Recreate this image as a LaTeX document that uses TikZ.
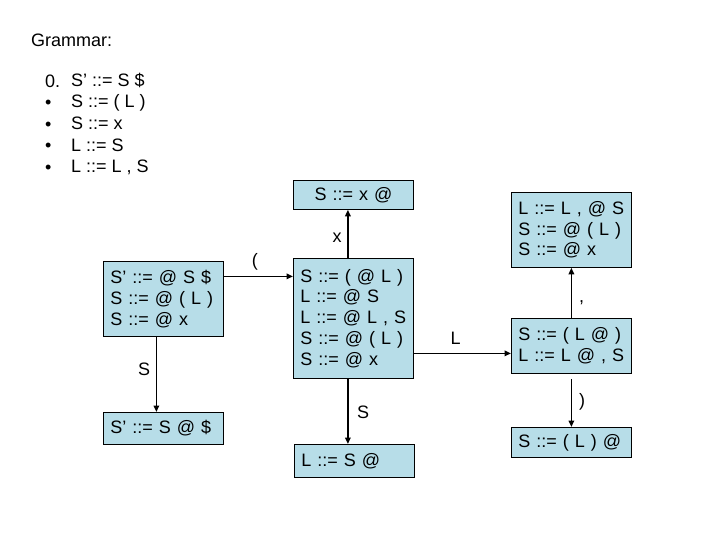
\documentclass[tikz,border=0pt]{standalone}
\usepackage{fontspec}
\setmainfont{Liberation Sans}
\usetikzlibrary{arrows.meta,positioning}

\definecolor{itemblue}{HTML}{B7DDE8}
\newcommand{\rulefont}{\fontsize{18}{20.7}\selectfont}

\begin{document}
\begin{tikzpicture}[
    x=1pt, y=-1pt,
    >={Triangle[length=6.5pt,width=5.5pt]},
    font=\rulefont,
    item/.style={
        draw, fill=itemblue,
        line width=0.8pt,
        anchor=north west,
        inner xsep=7pt,
        inner ysep=0pt,
        text width=106pt,
        align=left
    },
    link/.style={
        ->,
        line width=1.8pt
    },
    symlabel/.style={
        font=\rulefont
    },
    gramtext/.style={
        anchor=west,
        inner sep=0pt,
        align=left,
        font=\fontsize{18}{21.6}\selectfont
    }
]

\useasboundingbox (0,0) rectangle (720,540);


\node[gramtext] (title) at (31,40) {Grammar:};
\node[gramtext] (marks) at (45,124) {0.\\ •\\ •\\ •\\ •};
\node[gramtext] (rules) at (71,124) {S’ ::= S \$\\ S ::= ( L )\\ S ::= x\\ L ::= S\\ L ::= L , S};


\node[item,minimum height=29pt,align=center] (sx) at (293,180) {S ::= x @};
\node[item,minimum height=120pt] (c) at (293,258)
    {S ::= ( @ L )\\ L ::= @ S\\ L ::= @ L , S\\ S ::= @ ( L )\\ S ::= @ x};
\node[item,minimum height=75pt] (s0) at (103,261)
    {S’ ::= @ S \$\\ S ::= @ ( L )\\ S ::= @ x};
\node[item,minimum height=32pt] (s1) at (103,412) {S’ ::= S @ \$};
\node[item,minimum height=33pt] (sL) at (294,444) {L ::= S @};

\node[item,minimum height=75pt] (sc) at (511,192)
    {L ::= L , @ S\\ S ::= @ ( L )\\ S ::= @ x};
\node[item,minimum height=55pt] (sl) at (511,318)
    {S ::= ( L @ )\\ L ::= L @ , S};
\node[item,minimum height=30pt] (sr) at (511,427) {S ::= ( L ) @};


\draw[link] ([yshift=22.5pt]s0.east) -- node[symlabel,pos=.45,above=2pt] {(} ([yshift=22.5pt]s0.east -| c.west);
\draw[link] ([xshift=-5.5pt]c.north) -- node[symlabel,pos=.43,left=2pt] {x} ([xshift=-5.5pt]c.north |- sx.south);
\draw[link] ([xshift=-7pt]s0.south) -- node[symlabel,pos=.43,left=2pt] {S} ([xshift=-7pt]s0.south |- s1.north);
\draw[link] ([xshift=-5.5pt]c.south) -- node[symlabel,pos=.52,right=5pt] {S} ([xshift=-5.5pt]c.south |- sL.north);
\draw[link] ([yshift=-7.5pt]sl.west -| c.east) -- node[symlabel,pos=.43,above=4.5pt] {L} ([yshift=-7.5pt]sl.west);

\draw[link] (sl.north) -- node[symlabel,pos=.30,right=3.5pt] {,} (sc.south);
\draw[link,shorten <=5pt] (sl.south) -- node[symlabel,pos=.53,right=3.5pt] {)} (sr.north);

\end{tikzpicture}
\end{document}
